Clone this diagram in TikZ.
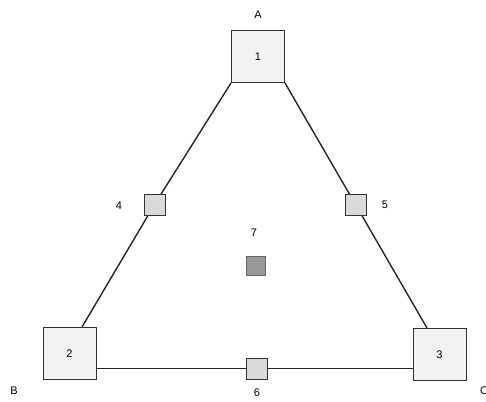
\documentclass[tikz,border=0pt]{standalone}
\usepackage{fontspec}
\setmainfont{Liberation Sans}
\usetikzlibrary{calc,backgrounds}
\begin{document}
\begin{tikzpicture}[x=1pt,y=-1pt,
  bigbox/.style={draw=black!80, line width=1pt, fill=black!5, minimum width=53pt, minimum height=52pt, inner sep=0pt, font=\fontsize{11}{12}\selectfont},
  smallbox/.style={draw=black!80, line width=1pt, fill=black!15, minimum width=21pt, minimum height=21pt, inner sep=0pt},
  darkbox/.style={draw=black!60, line width=0.6pt, fill=black!40, minimum width=19pt, minimum height=19pt, inner sep=0pt},
  lbl/.style={font=\fontsize{11}{12}\selectfont, inner sep=0pt},
  link/.style={draw=black!85, line width=1.4pt}]
\useasboundingbox (0,0) rectangle (486,401);
\node[bigbox] (b1) at (258,56.5) {1};
\node[bigbox] (b2) at (69.5,353.5) {2};
\node[bigbox] (b3) at (439.5,354.5) {3};
\node[smallbox] (b4) at (154.5,204.5) {};
\node[smallbox] (b5) at (355.5,204.5) {};
\node[smallbox] (b6) at (257,368.5) {};
\node[darkbox] (b7) at (256,265.5) {};
\node[lbl] (lA) at (258,15) {A};
\node[lbl] (lB) at (14,391) {B};
\node[lbl] (lC) at (484,391) {C};
\node[lbl] (l4) at (119,206) {4};
\node[lbl] (l5) at (385,205) {5};
\node[lbl] (l6) at (257,393) {6};
\node[lbl] (l7) at (254,233) {7};
\begin{scope}[on background layer]
\coordinate (t2) at ($(b2.north)+(12.5,0)$);
\coordinate (t3) at ($(b3.north)+(-12.5,0)$);
\draw[link] (b1.south west) -- (b4.center) -- (t2);
\draw[link] (b1.south east) -- (b5.center) -- (t3);
\draw[link] (b2.east |- b6.center) -- (b6.center) -- (b3.west |- b6.center);
\end{scope}
\end{tikzpicture}
\end{document}
